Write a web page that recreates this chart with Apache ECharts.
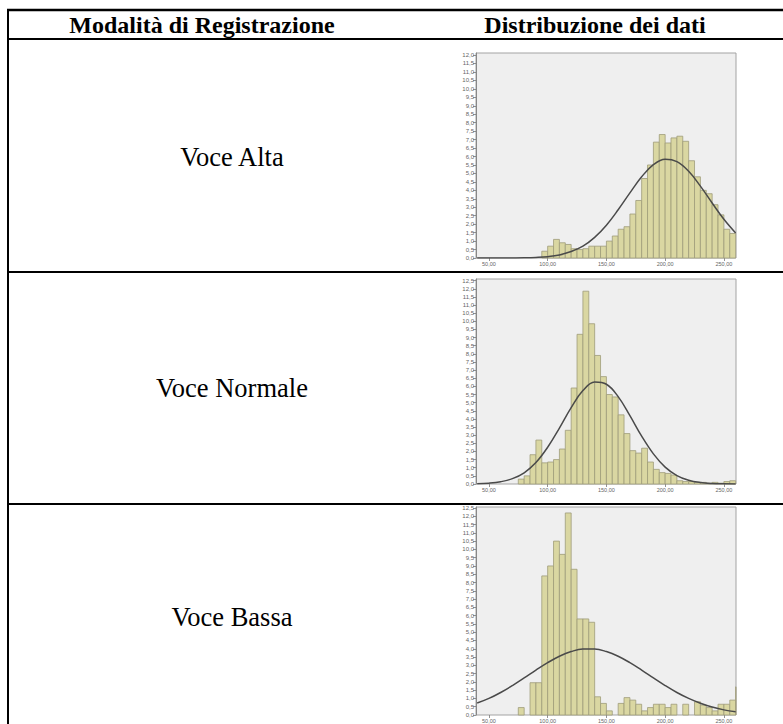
<!DOCTYPE html>
<html><head><meta charset="utf-8">
<script src="https://cdn.jsdelivr.net/npm/echarts@6/dist/echarts.min.js"></script>
<style>html,body{margin:0;padding:0;background:#fff}#c{width:783px;height:724px}</style>
</head><body><div id="c"></div>
<script>
// ---------- data ----------
const headers = ['Modalità di Registrazione', 'Distribuzione dei dati'];
const rowLabels = ['Voce Alta', 'Voce Normale', 'Voce Bassa'];
const xTicks = [50, 100, 150, 200, 250];
const binWidth = 5;

const altaBins = [95,100,105,110,115,120,125,130,135,140,145,150,155,160,165,170,175,180,185,190,195,200,205,210,215,220,225,230,235,240,245,250,255];
const altaCounts = [0.4,0.7,1.1,0.9,0.8,0.55,0.5,0.55,0.7,0.7,0.7,1.0,1.3,1.7,1.85,2.6,3.4,4.7,5.5,6.85,7.3,6.8,7.1,7.2,6.9,5.75,4.8,4.0,3.8,3.15,2.55,1.7,1.45];

const normaleBins = [75,80,85,90,95,100,105,110,115,120,125,130,135,140,145,150,155,160,165,170,175,180,185,190,195,200,205,210,215,220,225,230,235,240,245,250,255];
const normaleCounts = [0.3,0.5,1.8,2.7,1.3,1.35,1.5,2.15,3.3,5.9,9.2,11.85,9.85,7.9,6.6,5.5,5.35,4.25,3.1,2.05,1.9,2.2,1.35,0.9,0.7,0.65,0.55,0.2,0.15,0.15,0.1,0.1,0.05,0.1,0.05,0.15,0.2];

const bassaBins = [75,80,85,90,95,100,105,110,115,120,125,130,135,140,145,150,155,160,165,170,175,180,185,190,195,200,205,210,215,220,225,230,235,240,245,250,255,260];
const bassaCounts = [0.45,0,1.95,1.95,8.4,9.0,10.5,9.7,12.2,8.8,5.8,5.8,5.6,1.1,0.7,0.25,0,0.7,1.05,0.9,0.65,0.25,0.45,0.65,0.65,0.45,0.65,0,0.65,0,0.8,0.6,0.45,0.25,0.65,0.65,0.9,1.7];

const curveX = [40,50,60,70,80,90,100,110,120,130,140,150,160,170,180,190,200,210,220,230,240,250,260];
const altaCurve = [0,0,0,0.005,0.013,0.035,0.08,0.18,0.38,0.70,1.22,1.94,2.85,3.85,4.80,5.52,5.84,5.70,5.13,4.25,3.25,2.29,1.48];
const normaleCurve = [0.017,0.05,0.14,0.33,0.69,1.32,2.26,3.44,4.70,5.74,6.27,6.13,5.37,4.20,2.94,1.85,1.04,0.52,0.23,0.09,0.03,0.01,0.003];
const bassaCurve = [0.72,1.00,1.36,1.78,2.24,2.71,3.16,3.55,3.83,3.98,3.98,3.83,3.55,3.16,2.71,2.24,1.78,1.36,1.00,0.71,0.48,0.31,0.20];

const yMaxes = [12.12, 12.6, 12.56];

// ---------- styling / layout ----------
const barFill = '#dad7a2', barStroke = '#9e9c7a';
const grids = [
  {left: 476, top: 53, width: 260, height: 205},
  {left: 476, top: 279, width: 260, height: 205},
  {left: 476, top: 507, width: 260, height: 210}
];
const fmtY = v => (Math.abs(v * 2 - Math.round(v * 2)) < 1e-6) ? v.toFixed(1).replace('.', ',') : '';
const fmtX = v => v.toFixed(2).replace('.', ',');

function renderBar(params, api) {
  const x0 = api.value(0), h = api.value(1);
  if (!h) return null;
  const p0 = api.coord([x0, 0]);
  const p1 = api.coord([x0 + binWidth, h]);
  const cs = params.coordSys;
  const shape = echarts.graphic.clipRectByRect(
    {x: p0[0], y: p1[1], width: p1[0] - p0[0], height: p0[1] - p1[1]},
    {x: cs.x, y: cs.y, width: cs.width, height: cs.height});
  return shape && {type: 'rect', shape: shape, style: {fill: barFill, stroke: barStroke, lineWidth: 0.8}};
}

const hists = [
  {bins: altaBins, counts: altaCounts, curve: altaCurve},
  {bins: normaleBins, counts: normaleCounts, curve: normaleCurve},
  {bins: bassaBins, counts: bassaCounts, curve: bassaCurve}
];

const xAxes = [], yAxes = [], series = [];
hists.forEach((h, i) => {
  xAxes.push({
    type: 'value', gridIndex: i, min: 39, max: 260.3,
    axisLine: {show: false}, splitLine: {show: false},
    axisTick: {show: true, length: 3, customValues: xTicks, lineStyle: {color: '#777', width: 0.8}},
    axisLabel: {customValues: xTicks, formatter: fmtX, fontSize: 5.5, color: '#666', margin: 3, fontFamily: 'Liberation Sans'}
  });
  yAxes.push({
    type: 'value', gridIndex: i, min: 0, max: yMaxes[i], interval: 0.5,
    axisLine: {show: true, lineStyle: {color: '#888', width: 1}},
    splitLine: {show: false},
    axisTick: {show: true, length: 3, lineStyle: {color: '#777', width: 0.8}},
    axisLabel: {formatter: fmtY, fontSize: 6, color: '#666', margin: 2, fontFamily: 'Liberation Sans', showMaxLabel: false}
  });
  series.push({
    type: 'custom', xAxisIndex: i, yAxisIndex: i,
    renderItem: renderBar,
    data: h.bins.map((b, k) => [b, h.counts[k]]),
    silent: true
  });
  series.push({
    type: 'line', xAxisIndex: i, yAxisIndex: i, smooth: 0.4, symbol: 'none',
    data: curveX.map((x, k) => [x, h.curve[k]]),
    lineStyle: {color: '#4a4a4a', width: 1.5}, clip: true, silent: true, z: 5
  });
});

const serif = 'Liberation Serif, Times New Roman, serif';
const line = (x1, y1, x2, y2, w) => ({type: 'line', shape: {x1, y1, x2, y2}, style: {stroke: '#000', lineWidth: w}, z: 0, silent: true});
const txt = (x, y, s, bold, size) => ({type: 'text', x, y, style: {text: s, font: (bold ? 'bold ' : '') + size + 'px ' + serif, fill: '#000', textAlign: 'center', textVerticalAlign: 'middle'}, silent: true});

const graphics = [
  line(7, 10, 783, 10, 2.5),
  line(7, 39, 783, 39, 2),
  line(8, 9, 8, 724, 2),
  line(7, 272, 783, 272, 2),
  line(7, 504, 783, 504, 2),
  txt(202, 25, headers[0], true, 24),
  txt(595, 25, headers[1], true, 24),
  txt(232, 157, rowLabels[0], false, 26.5),
  txt(232, 388, rowLabels[1], false, 26.5),
  txt(232, 617, rowLabels[2], false, 26.5)
];

const chart = echarts.init(document.getElementById('c'), null, {renderer: 'svg', width: 783, height: 724});
chart.setOption({
  animation: false,
  backgroundColor: '#fff',
  grid: grids.map(g => Object.assign({show: true, backgroundColor: '#efefef', borderColor: '#a3a3a3', borderWidth: 1, containLabel: false}, g)),
  xAxis: xAxes,
  yAxis: yAxes,
  series: series,
  graphic: graphics
});
</script>
</body></html>
